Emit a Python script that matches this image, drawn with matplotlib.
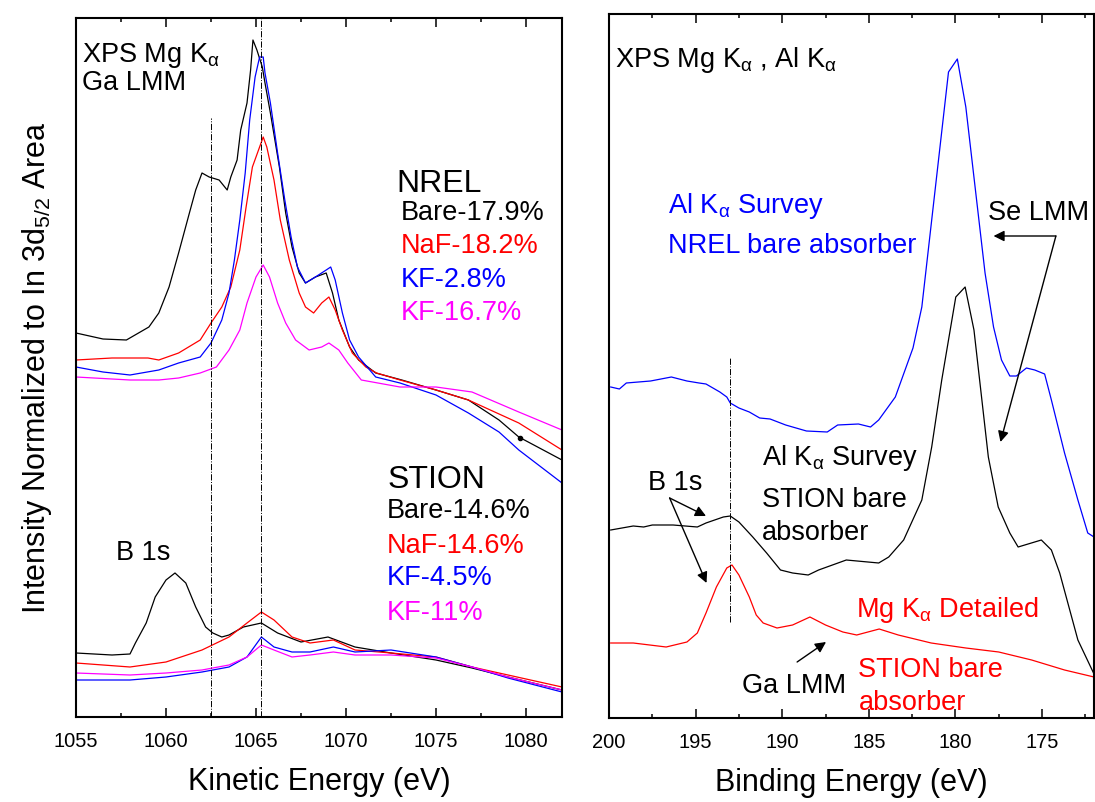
import matplotlib
matplotlib.use("Agg")
import matplotlib.pyplot as plt
from matplotlib.ticker import MultipleLocator

plt.rcParams['font.family'] = ['Liberation Sans', 'DejaVu Sans']
plt.rcParams['mathtext.fontset'] = 'custom'
plt.rcParams['mathtext.rm'] = 'Liberation Sans'
plt.rcParams['mathtext.it'] = 'Liberation Sans:italic'
plt.rcParams['mathtext.bf'] = 'Liberation Sans:bold'

# ---------------- Ga LMM, kinetic energy (eV) ----------------
nrel_bare_ke = [1055.0, 1056.5, 1057.8, 1059.05, 1059.6, 1060.17, 1060.7, 1061.3, 1061.65, 1062.0,
                1062.4, 1062.95, 1063.4, 1063.6, 1063.95, 1064.15, 1064.5, 1064.7, 1064.83, 1065.05,
                1065.35, 1065.5, 1065.8, 1066.3, 1066.65, 1067.0, 1067.4, 1067.75, 1068.3, 1068.9,
                1069.25, 1069.6, 1070.2, 1070.7, 1071.65, 1073.1, 1075.0, 1076.8, 1078.5, 1079.6, 1082.0]
nrel_bare_i = [3.84, 3.78, 3.77, 3.90, 4.04, 4.30, 4.64, 5.04, 5.27, 5.44,
               5.40, 5.37, 5.27, 5.40, 5.57, 5.87, 6.14, 6.47, 6.77, 6.67,
               6.50, 6.34, 6.04, 5.50, 5.04, 4.70, 4.44, 4.34, 4.40, 4.44,
               4.24, 3.97, 3.70, 3.57, 3.44, 3.37, 3.27, 3.17, 2.97, 2.80, 2.57]

nrel_naf_ke = [1055.0, 1057.0, 1059.0, 1059.6, 1060.7, 1061.9, 1062.5, 1063.1, 1063.6, 1064.1,
               1064.45, 1064.8, 1065.2, 1065.4, 1065.6, 1066.0, 1066.35, 1066.85, 1067.4, 1067.75,
               1068.2, 1068.65, 1069.05, 1069.4, 1069.8, 1070.35, 1071.1, 1071.7, 1073.0, 1075.0,
               1076.8, 1079.6, 1082.0]
nrel_naf_i = [3.57, 3.59, 3.59, 3.57, 3.64, 3.77, 3.94, 4.10, 4.30, 4.67,
              5.10, 5.50, 5.70, 5.80, 5.70, 5.37, 4.97, 4.57, 4.24, 4.10,
              4.04, 4.14, 4.20, 4.07, 3.87, 3.64, 3.50, 3.44, 3.37, 3.27,
              3.17, 2.94, 2.67]

nrel_kf28_ke = [1055.0, 1056.5, 1058.0, 1059.6, 1060.7, 1061.9, 1062.5, 1063.1, 1063.5, 1063.8,
                1064.1, 1064.4, 1064.65, 1064.95, 1065.2, 1065.4, 1065.5, 1065.8, 1066.2, 1066.6,
                1066.95, 1067.3, 1067.75, 1068.3, 1068.9, 1069.15, 1069.4, 1069.8, 1070.2, 1070.7,
                1071.65, 1073.0, 1075.0, 1076.8, 1078.5, 1079.6, 1082.0]
nrel_kf28_i = [3.50, 3.45, 3.42, 3.47, 3.54, 3.60, 3.74, 3.97, 4.24, 4.57,
               4.97, 5.44, 5.97, 6.40, 6.60, 6.60, 6.44, 6.14, 5.64, 5.17,
               4.80, 4.50, 4.34, 4.40, 4.47, 4.50, 4.37, 4.04, 3.77, 3.60,
               3.40, 3.34, 3.22, 3.04, 2.85, 2.67, 2.34]

nrel_kf167_ke = [1055.0, 1058.0, 1059.6, 1060.7, 1061.9, 1062.8, 1063.5, 1064.1, 1064.5, 1065.0,
                 1065.4, 1065.75, 1066.2, 1066.65, 1067.2, 1067.95, 1068.65, 1069.05, 1069.6, 1070.1,
                 1070.85, 1073.0, 1075.0, 1077.0, 1079.6, 1082.0]
nrel_kf167_i = [3.40, 3.37, 3.37, 3.39, 3.44, 3.50, 3.67, 3.87, 4.14, 4.40,
                4.52, 4.40, 4.14, 3.94, 3.77, 3.67, 3.70, 3.74, 3.67, 3.54,
                3.37, 3.30, 3.30, 3.25, 3.05, 2.87]

stion_bare_ke = [1055.0, 1057.0, 1058.0, 1058.3, 1058.9, 1059.4, 1060.0, 1060.5, 1061.1, 1061.65,
                 1062.2, 1062.6, 1063.1, 1063.5, 1064.3, 1065.3, 1066.2, 1067.5, 1069.0, 1070.5,
                 1072.5, 1075.0, 1077.0, 1079.0, 1082.0]
stion_bare_i = [0.64, 0.62, 0.63, 0.74, 0.94, 1.20, 1.37, 1.44, 1.34, 1.10,
                0.90, 0.84, 0.80, 0.82, 0.90, 0.94, 0.84, 0.75, 0.80, 0.70,
                0.64, 0.57, 0.49, 0.40, 0.27]

stion_ke = [1055.0, 1058.0, 1060.0, 1062.0, 1063.5, 1064.5, 1065.3, 1066.0, 1067.0, 1068.0,
            1069.3, 1070.5, 1072.5, 1075.0, 1077.0, 1079.0, 1082.0]
stion_naf_i = [0.54, 0.50, 0.55, 0.67, 0.80, 0.94, 1.05, 0.97, 0.80, 0.74,
               0.77, 0.67, 0.64, 0.60, 0.50, 0.42, 0.30]
stion_kf45_i = [0.37, 0.37, 0.40, 0.45, 0.50, 0.60, 0.80, 0.70, 0.65, 0.65,
                0.70, 0.65, 0.67, 0.60, 0.50, 0.39, 0.25]
stion_kf11_i = [0.44, 0.42, 0.44, 0.47, 0.52, 0.60, 0.72, 0.67, 0.60, 0.62,
                0.65, 0.62, 0.62, 0.59, 0.50, 0.40, 0.27]

ke_ticks = [1055, 1060, 1065, 1070, 1075, 1080]
ke_marks = [1062.5, 1065.3]

# ---------------- B 1s region, binding energy (eV) ----------------
nrel_survey_be = [199.9, 199.4, 199.0, 197.6, 196.4, 195.5, 194.8, 194.4, 193.6, 193.2,
                  193.0, 192.5, 191.9, 191.3, 190.7, 189.8, 188.6, 187.4, 186.8, 185.6,
                  184.9, 184.43, 183.47, 182.45, 181.94, 180.4, 179.89, 179.4, 178.29, 177.8,
                  177.34, 176.86, 176.48, 175.9, 175.42, 174.85, 174.46, 173.7, 172.93, 172.36,
                  172.0]
nrel_survey_i = [3.31, 3.29, 3.35, 3.37, 3.41, 3.37, 3.35, 3.34, 3.26, 3.21,
                 3.15, 3.10, 3.06, 3.00, 2.99, 2.93, 2.87, 2.86, 2.93, 2.94,
                 2.91, 2.98, 3.21, 3.70, 4.11, 6.46, 6.59, 6.11, 4.45, 3.91,
                 3.58, 3.42, 3.42, 3.50, 3.48, 3.44, 3.18, 2.65, 2.18, 1.85,
                 1.81]

stion_survey_be = [199.9, 198.6, 198.0, 197.5, 196.3, 194.9, 194.4, 193.4, 193.0, 192.5,
                   191.7, 190.9, 190.1, 189.4, 188.5, 187.9, 186.3, 184.43, 183.85, 182.99,
                   181.94, 181.37, 180.79, 179.98, 179.44, 178.93, 178.1, 177.53, 176.86, 176.38,
                   175.04, 174.46, 173.98, 172.93, 172.0]
stion_survey_i = [1.88, 1.92, 1.91, 1.93, 1.93, 1.91, 1.95, 2.01, 2.02, 1.96,
                  1.81, 1.65, 1.48, 1.45, 1.43, 1.48, 1.58, 1.55, 1.61, 1.78,
                  2.18, 2.71, 3.38, 4.21, 4.31, 3.88, 2.61, 2.11, 1.85, 1.71,
                  1.78, 1.68, 1.45, 0.78, 0.44]

stion_detail_be = [199.9, 198.6, 196.7, 195.5, 194.9, 194.4, 193.8, 193.2, 192.9, 192.5,
                   191.9, 191.5, 191.1, 190.3, 189.4, 188.4, 187.5, 186.5, 185.7, 184.4,
                   183.3, 181.4, 179.4, 177.5, 175.6, 173.7, 172.0]
stion_detail_i = [0.75, 0.75, 0.71, 0.76, 0.85, 1.05, 1.31, 1.50, 1.53, 1.43,
                  1.21, 1.03, 0.95, 0.90, 0.93, 1.01, 0.93, 0.86, 0.83, 0.89,
                  0.83, 0.75, 0.70, 0.66, 0.58, 0.48, 0.41]

be_ticks = [200, 195, 190, 185, 180, 175]
b1s_be = 193.0

W, H = 1095, 802
fig = plt.figure(figsize=(W / 100, H / 100), dpi=100)
axL = fig.add_axes([76 / W, (H - 717) / H, (562 - 76) / W, (717 - 18) / H])
axR = fig.add_axes([609 / W, (H - 718) / H, (1094 - 609) / W, (718 - 14) / H])

lw = 0.9
axL.plot(nrel_bare_ke, nrel_bare_i, color='black', lw=lw)
axL.plot(nrel_naf_ke, nrel_naf_i, color='red', lw=lw)
axL.plot(nrel_kf28_ke, nrel_kf28_i, color='blue', lw=lw)
axL.plot(nrel_kf167_ke, nrel_kf167_i, color='magenta', lw=lw)
axL.plot(stion_bare_ke, stion_bare_i, color='black', lw=lw)
axL.plot(stion_ke, stion_naf_i, color='red', lw=lw)
axL.plot(stion_ke, stion_kf45_i, color='blue', lw=lw)
axL.plot(stion_ke, stion_kf11_i, color='magenta', lw=lw)
axL.plot([1079.67], [2.79], 'o', color='black', ms=3)

axL.axvline(ke_marks[0], ymin=0, ymax=5.99 / 6.99, color='black', lw=0.7, ls='-.')
axL.axvline(ke_marks[1], color='black', lw=0.7, ls='-.')

axL.set_xlim(1055, 1082)
axL.set_ylim(0, 6.99)

axR.plot(nrel_survey_be, nrel_survey_i, color='blue', lw=lw)
axR.plot(stion_survey_be, stion_survey_i, color='black', lw=lw)
axR.plot(stion_detail_be, stion_detail_i, color='red', lw=lw)
axR.plot([b1s_be, b1s_be], [0.96, 3.60], color='black', lw=0.7, ls='-.')
axR.set_xlim(200, 172)
axR.set_ylim(0, 7.04)

for ax, ticks in ((axL, ke_ticks), (axR, be_ticks)):
    ax.set_xticks(ticks)
    ax.xaxis.set_minor_locator(MultipleLocator(2.5))
    ax.set_yticks([])
    ax.tick_params(axis='x', which='both', direction='in', top=True, bottom=True,
                   labelsize=14.5, width=1.1, pad=10.5)
    ax.tick_params(axis='x', which='major', length=6.5)
    ax.tick_params(axis='x', which='minor', length=3)
    for s in ax.spines.values():
        s.set_linewidth(1.5)

axL.set_xlabel('Kinetic Energy (eV)', fontsize=22, labelpad=12)
axR.set_xlabel('Binding Energy (eV)', fontsize=22, labelpad=12)
axL.set_ylabel(r'Intensity Normalized to In 3d$_{\mathregular{5/2}}$ Area', fontsize=22, labelpad=16)

fs = 19.5
a = r'$_{\mathregular{α}}$'
# left panel labels
axL.text(1055.33, 6.55, 'XPS Mg K' + a, fontsize=fs)
axL.text(1055.33, 6.27, 'Ga LMM', fontsize=fs)
axL.text(1072.8, 5.25, 'NREL', fontsize=23)
axL.text(1073.06, 4.97, 'Bare-17.9%', fontsize=fs, color='black')
axL.text(1073.06, 4.64, 'NaF-18.2%', fontsize=fs, color='red')
axL.text(1073.06, 4.30, 'KF-2.8%', fontsize=fs, color='blue')
axL.text(1073.06, 3.97, 'KF-16.7%', fontsize=fs, color='magenta')
axL.text(1072.28, 2.29, 'STION', fontsize=23)
axL.text(1072.28, 1.99, 'Bare-14.6%', fontsize=fs, color='black')
axL.text(1072.28, 1.64, 'NaF-14.6%', fontsize=fs, color='red')
axL.text(1072.28, 1.32, 'KF-4.5%', fontsize=fs, color='blue')
axL.text(1072.28, 0.97, 'KF-11%', fontsize=fs, color='magenta')
axL.text(1057.2, 1.57, 'B 1s', fontsize=fs)

# right panel labels
axR.text(199.66, 6.51, 'XPS Mg K' + a + ' , Al K' + a, fontsize=fs)
axR.text(196.6, 5.05, 'Al K' + a + ' Survey', fontsize=fs, color='blue')
axR.text(196.6, 4.65, 'NREL bare absorber', fontsize=fs, color='blue')
axR.text(178.1, 4.98, 'Se LMM', fontsize=fs)
axR.text(191.15, 2.53, 'Al K' + a + ' Survey', fontsize=fs)
axR.text(191.15, 2.11, 'STION bare', fontsize=fs)
axR.text(191.15, 1.78, 'absorber', fontsize=fs)
axR.text(197.76, 2.28, 'B 1s', fontsize=fs)
axR.text(185.75, 1.01, 'Mg K' + a + ' Detailed', fontsize=fs, color='red')
axR.text(185.6, 0.41, 'STION bare', fontsize=fs, color='red')
axR.text(185.6, 0.08, 'absorber', fontsize=fs, color='red')
axR.text(192.3, 0.25, 'Ga LMM', fontsize=fs)

arrow = dict(arrowstyle='-|>', color='black', lw=1.0, mutation_scale=16, shrinkA=0, shrinkB=0)
for tip in ((177.8, 4.82), (177.4, 2.76)):
    axR.annotate('', xy=tip, xytext=(174.2, 4.82), arrowprops=arrow)
for tip in ((194.4, 2.02), (194.37, 1.35)):
    axR.annotate('', xy=tip, xytext=(196.5, 2.20), arrowprops=arrow)
axR.annotate('', xy=(187.47, 0.76), xytext=(189.14, 0.56), arrowprops=arrow)

fig.savefig('out.png', dpi=100)
